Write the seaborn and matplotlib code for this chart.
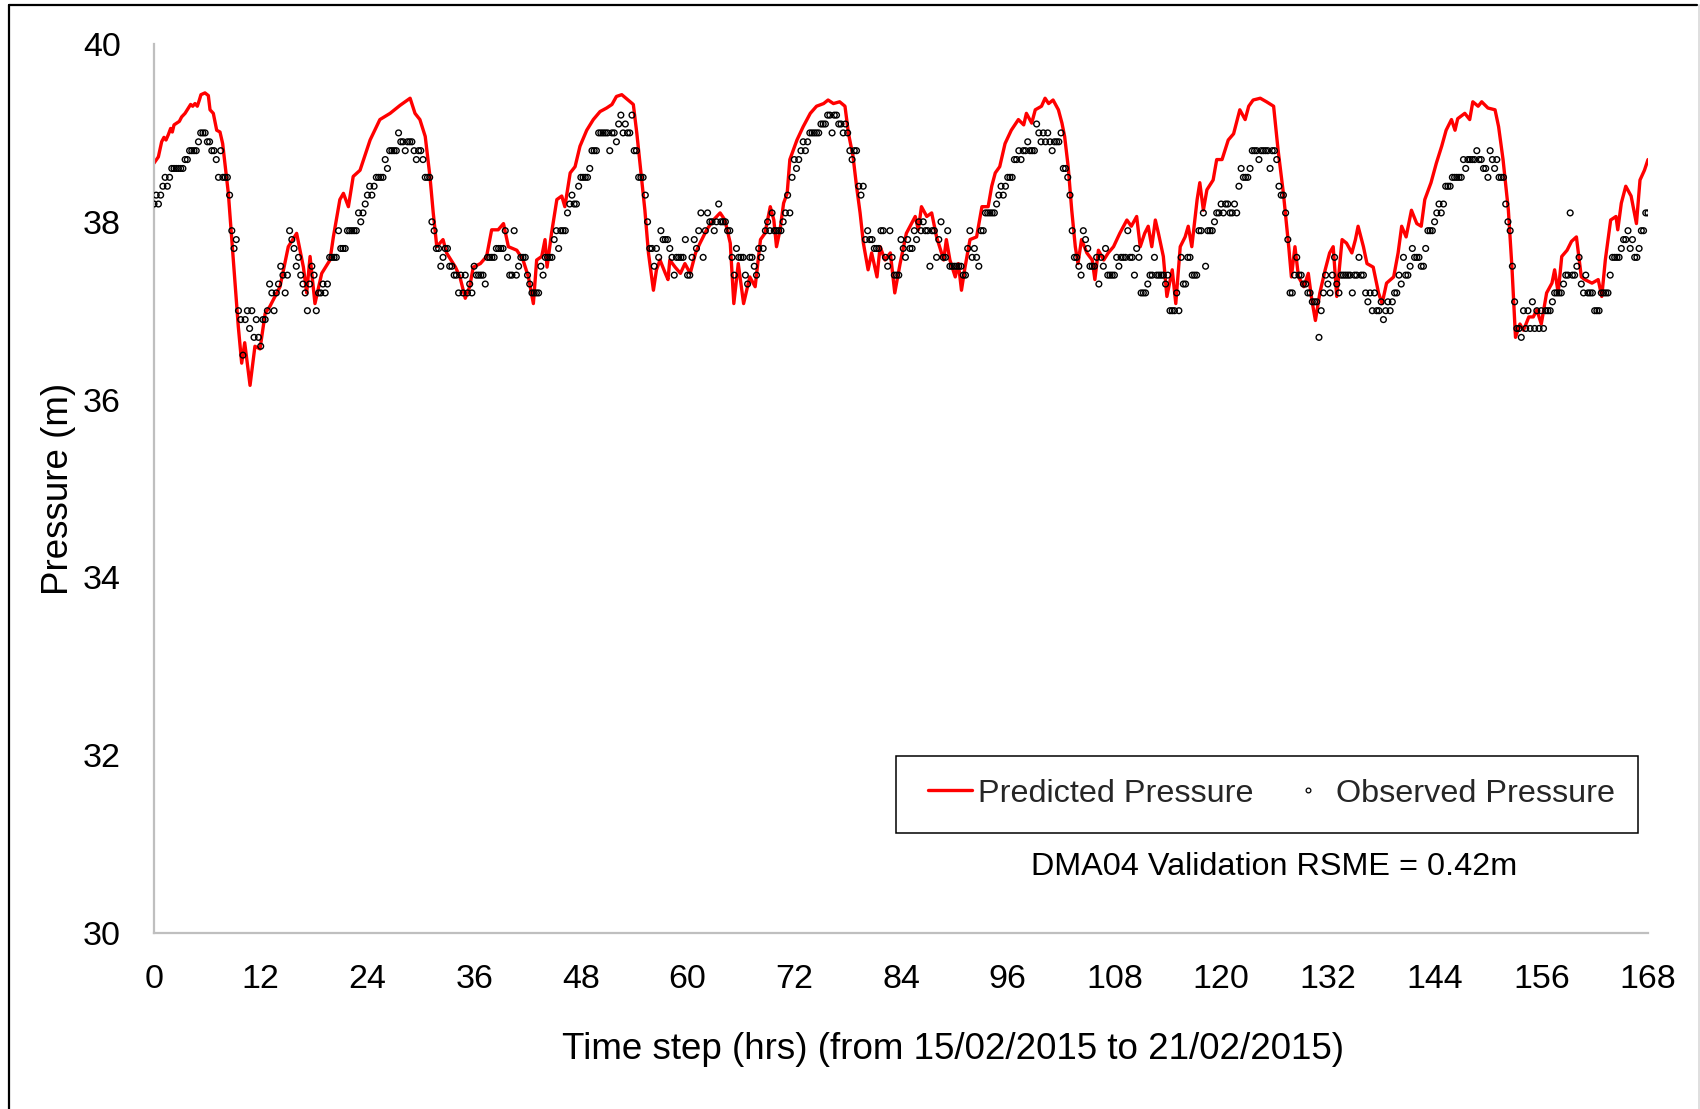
import numpy as np
import pandas as pd
import matplotlib
matplotlib.use("Agg")
import matplotlib.pyplot as plt
from matplotlib.lines import Line2D
from matplotlib.patches import Rectangle
import seaborn as sns

# ---------------------------------------------------------------------------
# Predicted pressure (m) from the hydraulic model, at the listed hours
pred_hours = [
    0, 0.49, 0.86, 1.12, 1.35, 1.61, 1.87, 2.06, 2.25, 2.55, 2.85, 3.11, 3.49, 3.86,
    4.12, 4.35, 4.61, 4.87, 5.1, 5.28, 5.73, 6.11, 6.3, 6.67, 7.05, 7.42, 7.72, 8.36,
    8.92, 9.48, 9.86, 10.2, 10.8,
    11.35, 11.92, 12.5, 13.04, 14.17, 15.1, 16.04, 16.8, 17.17, 17.55, 18.1, 18.86, 19.79,
    20.17, 20.9, 21.3, 21.86, 22.4, 23.17, 24.3, 25.4, 26.55, 27.67, 28.8, 29.35, 29.9,
    30.5, 31.03, 31.4, 31.8, 32.5, 32.9, 33.9, 34.4, 35.0, 35.5, 35.9, 36.7, 37.4, 37.97,
    38.7, 39.3, 39.85, 40.8, 41.5, 42.1, 42.66, 43.03, 43.6, 43.97, 44.2, 44.7, 45.3,
    45.85, 46.2, 46.8, 47.35, 47.9, 48.66, 49.4, 50.16, 50.9, 51.5, 52.0, 52.6, 53.3,
    53.9, 54.3, 54.8, 55.2, 55.6, 56.16, 56.5, 56.9, 57.5, 57.8, 58.0, 58.6, 59.2, 59.7,
    60.3, 60.9, 61.4, 62.15, 62.9, 63.66, 64.2, 64.8, 65.2, 65.7, 66.3, 67.0, 67.6, 68.2,
    68.7, 69.3, 69.7, 70.0, 70.4, 70.8, 71.2, 71.5, 72.3, 73.0, 73.8, 74.5, 75.3, 75.8,
    76.4, 77.1, 77.7, 78.1, 78.6, 79.0, 79.4, 79.77, 80.3, 80.7, 81.3, 81.65, 82.2, 82.8,
    83.3, 83.9, 84.6, 85.6, 85.95, 86.3, 86.9, 87.45, 88.0, 88.8, 89.1, 89.5, 90.1,
    90.45, 90.8, 91.2, 91.76, 92.5, 93.1, 93.8, 94.2, 94.6, 95.1, 95.7, 96.4, 97.2, 97.8,
    98.1, 98.7, 99.1, 99.8, 100.2, 100.6, 101.1, 101.7, 102.1, 102.4, 102.8, 103.2,
    103.6, 103.9, 104.3, 104.9, 105.5, 105.8, 106.2, 106.8, 107.3, 107.9, 108.6, 109.4,
    109.9, 110.5, 110.9, 111.4, 111.8, 112.2, 112.6, 112.95, 113.5, 113.9, 114.5, 114.9,
    115.4, 115.95, 116.3, 116.7, 117.3, 117.6, 118.0, 118.4, 119.1, 119.5, 120.1, 120.8,
    121.4, 122.1, 122.7, 123.1, 123.6, 124.4, 125.1, 125.9, 126.4, 127.0, 127.6, 127.9,
    128.3, 128.7, 129.3, 129.8, 130.2, 130.6, 131.1, 131.7, 132.2, 132.6, 133.0, 133.6,
    134.1, 134.7, 135.1, 135.4, 136.0, 136.4, 137.1, 137.7, 138.1, 138.6, 139.4, 139.9,
    140.3, 140.8, 141.4, 142.0, 142.5, 142.9, 143.6, 144.2, 144.8, 145.3, 145.9, 146.3,
    146.6, 147.4, 147.95, 148.3, 148.9, 149.3, 150.0, 150.8, 151.2, 151.7, 152.3, 152.7,
    153.1, 153.6, 154.0, 154.6, 155.1, 155.5, 156.0, 156.6, 157.2, 157.5, 157.9, 158.3,
    158.9, 159.4, 159.95, 160.5, 160.9, 161.7, 162.4, 162.8, 163.2, 163.8, 164.4, 164.6,
    165.0, 165.5, 166.1, 166.7, 167.1, 167.6, 168.0,
]
pred_pressure = [
    38.66, 38.73, 38.90, 38.95, 38.92, 38.98, 39.05, 39.01, 39.09, 39.11, 39.13, 39.18,
    39.22, 39.28, 39.32, 39.30, 39.33, 39.30, 39.37, 39.43, 39.45, 39.42, 39.26, 39.22,
    39.03, 39.01, 38.88, 38.32, 37.57, 36.82, 36.41, 36.64, 36.16,
    36.60, 36.57, 36.97, 37.05, 37.27, 37.72, 37.87, 37.49, 37.20,
    37.61, 37.08, 37.42, 37.57, 37.83, 38.25, 38.32, 38.17, 38.51, 38.58, 38.92, 39.15,
    39.22, 39.31, 39.39, 39.22, 39.15, 38.96, 38.51, 38.10, 37.72, 37.80, 37.65, 37.49,
    37.38, 37.14, 37.27, 37.49, 37.53, 37.61, 37.91, 37.91, 37.98, 37.72, 37.68, 37.57,
    37.38, 37.08, 37.57, 37.61, 37.80, 37.49, 37.87, 38.25, 38.29, 38.17, 38.55, 38.62,
    38.85, 39.03, 39.15, 39.24, 39.28, 39.32, 39.41, 39.43, 39.37, 39.32, 38.99, 38.51,
    38.13, 37.65, 37.23, 37.46, 37.57, 37.42, 37.35, 37.57, 37.49, 37.42, 37.53, 37.42,
    37.65, 37.76, 37.91, 38.02, 38.10, 38.02, 37.76, 37.08, 37.53, 37.08, 37.38, 37.27,
    37.80, 37.87, 38.17, 38.02, 37.72, 37.91, 38.21, 38.32, 38.70, 38.92, 39.07, 39.22,
    39.30, 39.33, 39.37, 39.33, 39.35, 39.30, 38.99, 38.74, 38.40, 38.10, 37.76, 37.46,
    37.65, 37.38, 37.72, 37.57, 37.65, 37.20, 37.53, 37.87, 38.06, 37.91, 38.17, 38.06,
    38.10, 37.83, 37.57, 37.80, 37.57, 37.38, 37.53, 37.23, 37.49, 37.80, 37.83, 38.17,
    38.17, 38.40, 38.55, 38.62, 38.88, 39.03, 39.15, 39.09, 39.22, 39.11, 39.26, 39.30,
    39.39, 39.33, 39.37, 39.26, 39.11, 38.96, 38.62, 38.13, 37.72, 37.53, 37.80, 37.65,
    37.57, 37.35, 37.68, 37.57, 37.65, 37.72, 37.87, 38.02, 37.95, 38.06, 37.72, 37.87,
    37.95, 37.72, 38.02, 37.87, 37.61, 37.16, 37.46, 37.08, 37.72, 37.83, 37.95, 37.72,
    38.25, 38.44, 38.13, 38.36, 38.47, 38.70, 38.70, 38.92, 38.99, 39.26, 39.15, 39.30,
    39.37, 39.39, 39.35, 39.30, 38.81, 38.32, 37.72, 37.38, 37.72, 37.38, 37.27, 37.42,
    37.12, 36.89, 37.20, 37.46, 37.65, 37.72, 37.16, 37.80, 37.76, 37.65, 37.80, 37.95,
    37.72, 37.53, 37.49, 37.20, 37.08, 37.31, 37.38, 37.65, 37.95, 37.83, 38.13, 37.98,
    37.95, 38.25, 38.44, 38.66, 38.85, 39.03, 39.15, 39.03, 39.16, 39.22, 39.15, 39.35,
    39.30, 39.35, 39.28, 39.26, 39.07, 38.70, 38.13, 37.49, 36.70, 36.85, 36.78, 36.93,
    36.93, 37.01, 36.85, 37.20, 37.31, 37.46, 37.20, 37.61, 37.68, 37.78, 37.83, 37.38,
    37.35, 37.31, 37.35, 37.16, 37.57, 38.02, 38.06, 37.91, 38.21, 38.40, 38.29, 37.98,
    38.47, 38.58, 38.70,
]

# Observed pressure logged every 15 minutes, in decimetres (one list per day)
obs_day1 = [
    382, 383, 382, 383, 384, 385, 384, 385, 386, 386, 386, 386, 386, 386, 387, 387,
    388, 388, 388, 388, 389, 390, 390, 390, 389, 389, 388, 388, 387, 385, 388, 385,
    385, 385, 383, 379, 377, 378, 370, 369, 365, 369, 370, 368, 370, 367, 369, 367,
    366, 369, 369, 370, 373, 372, 370, 372, 373, 375, 374, 372, 374, 379, 378, 377,
    375, 376, 374, 373, 372, 370, 373, 375, 374, 370, 372, 372, 373, 372, 373, 376,
    376, 376, 376, 379, 377, 377, 377, 379, 379, 379, 379, 379, 381, 380, 381, 382,
]
obs_day2 = [
    383, 384, 383, 384, 385, 385, 385, 385, 387, 386, 388, 388, 388, 388, 390, 389,
    389, 388, 389, 389, 389, 388, 387, 388, 388, 387, 385, 385, 385, 380, 379, 377,
    377, 375, 376, 377, 377, 375, 375, 374, 374, 372, 374, 372, 374, 372, 373, 372,
    375, 374, 374, 374, 374, 373, 376, 376, 376, 376, 377, 377, 377, 377, 379, 376,
    374, 374, 379, 374, 375, 376, 376, 376, 374, 373, 372, 372, 372, 372, 375, 374,
    376, 376, 376, 376, 378, 379, 377, 379, 379, 379, 381, 382, 383, 382, 382, 384,
]
obs_day3 = [
    385, 385, 385, 385, 386, 388, 388, 388, 390, 390, 390, 390, 390, 388, 390, 390,
    389, 391, 392, 390, 391, 390, 390, 392, 388, 388, 385, 385, 385, 383, 380, 377,
    377, 375, 377, 376, 379, 378, 378, 378, 377, 376, 374, 376, 376, 376, 376, 378,
    374, 374, 376, 378, 377, 379, 381, 376, 379, 381, 380, 380, 379, 380, 382, 380,
    380, 380, 379, 379, 376, 374, 377, 376, 376, 376, 374, 373, 376, 376, 375, 374,
    377, 376, 377, 379, 380, 379, 381, 379, 379, 379, 379, 380, 381, 383, 381, 385,
]
obs_day4 = [
    387, 386, 387, 388, 389, 388, 389, 390, 390, 390, 390, 390, 391, 391, 391, 392,
    392, 390, 392, 392, 391, 391, 390, 391, 390, 388, 387, 388, 388, 384, 383, 384,
    378, 379, 378, 378, 377, 377, 377, 379, 379, 376, 375, 379, 376, 374, 374, 374,
    378, 377, 376, 378, 377, 377, 379, 378, 380, 379, 380, 379, 379, 375, 379, 379,
    376, 378, 380, 376, 376, 379, 375, 375, 375, 375, 375, 375, 374, 374, 377, 379,
    376, 377, 376, 375, 379, 379, 381, 381, 381, 381, 381, 382, 383, 384, 383, 384,
]
obs_day5 = [
    385, 385, 385, 387, 387, 388, 387, 388, 388, 389, 388, 388, 388, 391, 390, 389,
    390, 389, 390, 389, 388, 389, 389, 389, 390, 386, 386, 385, 383, 379, 376, 376,
    375, 374, 379, 378, 377, 375, 375, 375, 376, 373, 376, 375, 377, 374, 374, 374,
    374, 376, 375, 376, 376, 376, 379, 376, 376, 374, 377, 376, 372, 372, 372, 373,
    374, 374, 376, 374, 374, 374, 374, 373, 374, 370, 370, 370, 372, 370, 376, 373,
    373, 376, 376, 374, 374, 374, 379, 379, 381, 375, 379, 379, 379, 380, 381, 381,
]
obs_day6 = [
    382, 381, 382, 382, 381, 381, 382, 381, 384, 386, 385, 385, 385, 386, 388, 388,
    388, 387, 388, 388, 388, 388, 386, 388, 388, 387, 384, 383, 383, 381, 378, 372,
    372, 374, 376, 374, 374, 373, 373, 372, 372, 371, 371, 371, 367, 370, 372, 374,
    373, 372, 374, 376, 373, 372, 374, 374, 374, 374, 374, 372, 374, 374, 376, 374,
    374, 372, 371, 372, 370, 372, 370, 370, 371, 369, 370, 371, 370, 371, 372, 372,
    374, 373, 376, 374, 374, 375, 377, 376, 376, 376, 375, 375, 377, 379, 379, 379,
]
obs_day7 = [
    380, 381, 382, 381, 382, 384, 384, 384, 385, 385, 385, 385, 385, 387, 386, 387,
    387, 387, 387, 388, 387, 387, 386, 386, 385, 388, 387, 386, 387, 385, 385, 385,
    382, 380, 379, 375, 371, 368, 368, 367, 370, 368, 370, 368, 371, 368, 370, 368,
    370, 368, 370, 370, 370, 371, 372, 372, 372, 372, 373, 374, 374, 381, 374, 374,
    375, 376, 373, 372, 374, 372, 372, 372, 370, 370, 370, 372, 372, 372, 372, 374,
    376, 376, 376, 376, 377, 378, 378, 379, 377, 378, 376, 376, 377, 379, 379, 381,
    381,
]

x_ticks = [0, 12, 24, 36, 48, 60, 72, 84, 96, 108, 120, 132, 144, 156, 168]
y_ticks = [30, 32, 34, 36, 38, 40]
x_title = "Time step (hrs) (from 15/02/2015 to 21/02/2015)"
y_title = "Pressure (m)"
pred_name = "Predicted Pressure"
obs_name = "Observed Pressure"
fit_note = "DMA04 Validation RSME = 0.42m"

# ---------------------------------------------------------------------------
obs_dm = np.concatenate([obs_day1, obs_day2, obs_day3, obs_day4,
                         obs_day5, obs_day6, obs_day7])
observed = pd.DataFrame({"hour": np.arange(len(obs_dm)) * 0.25,
                         "pressure": obs_dm / 10.0})
predicted = pd.DataFrame({"hour": pred_hours, "pressure": pred_pressure})

sns.set_theme(style="white")
plt.rcParams["font.family"] = ["Liberation Sans", "DejaVu Sans"]

W, H = 1700, 1109
fig = plt.figure(figsize=(W / 100, H / 100), dpi=100)
ax = fig.add_axes([154 / W, 176 / H, 1494 / W, 889 / H])

sns.lineplot(data=predicted, x="hour", y="pressure", ax=ax, color="#FF0000",
             linewidth=2.4, zorder=2, legend=False)
sns.scatterplot(data=observed, x="hour", y="pressure", ax=ax, marker="o",
                s=17, facecolor="none", edgecolor="black", linewidth=1.0,
                zorder=3, legend=False)

ax.set_xlim(0, 168)
ax.set_ylim(30, 40)
ax.set_xticks(x_ticks)
ax.set_yticks(y_ticks)
ax.tick_params(axis="both", length=0, labelsize=24.5, colors="black")
ax.tick_params(axis="y", pad=24)
ax.tick_params(axis="x", pad=22)

for side in ("top", "right"):
    ax.spines[side].set_visible(False)
for side in ("left", "bottom"):
    ax.spines[side].set_color("#BFBFBF")
    ax.spines[side].set_linewidth(1.6)

ax.set_xlabel(x_title, fontsize=26.5, color="black")
ax.set_ylabel(y_title, fontsize=26.5, color="black")
ax.xaxis.set_label_coords(0.535, -0.111)
ax.yaxis.set_label_coords(-0.052, 0.5)

# Legend box and entries
ax.add_patch(Rectangle((0.4967, 0.1125), 0.4966, 0.0866, transform=ax.transAxes,
                       facecolor="white", edgecolor="black", linewidth=1.1,
                       zorder=4))
handles = [
    Line2D([], [], color="#FF0000", linewidth=2.4),
    Line2D([], [], linestyle="none", marker="o", markersize=3.4,
           markerfacecolor="white", markeredgecolor="black", markeredgewidth=0.9),
]
leg = ax.legend(handles, [pred_name, obs_name], loc="center",
                bbox_to_anchor=(0.748, 0.1569), ncol=2, frameon=False,
                fontsize=23.3, handlelength=1.36, handletextpad=0.19,
                columnspacing=1.0, borderpad=0.0)
leg.set_zorder(5)

ax.text(0.7497, 0.0745, fit_note, transform=ax.transAxes, ha="center",
        va="center", fontsize=23.3, color="black", zorder=5)

# Page frame of the figure panel
fig.add_artist(Line2D([9 / W, 9 / W], [0, 1 - 5 / H], color="black",
                      linewidth=1.6, transform=fig.transFigure))
fig.add_artist(Line2D([9 / W, 1697 / W], [1 - 5 / H, 1 - 5 / H], color="black",
                      linewidth=1.6, transform=fig.transFigure))
fig.add_artist(Line2D([1698.5 / W, 1698.5 / W], [0, 1 - 5 / H], color="#D9D9D9",
                      linewidth=1.2, transform=fig.transFigure))

fig.savefig("out.png", dpi=100, facecolor="white")
